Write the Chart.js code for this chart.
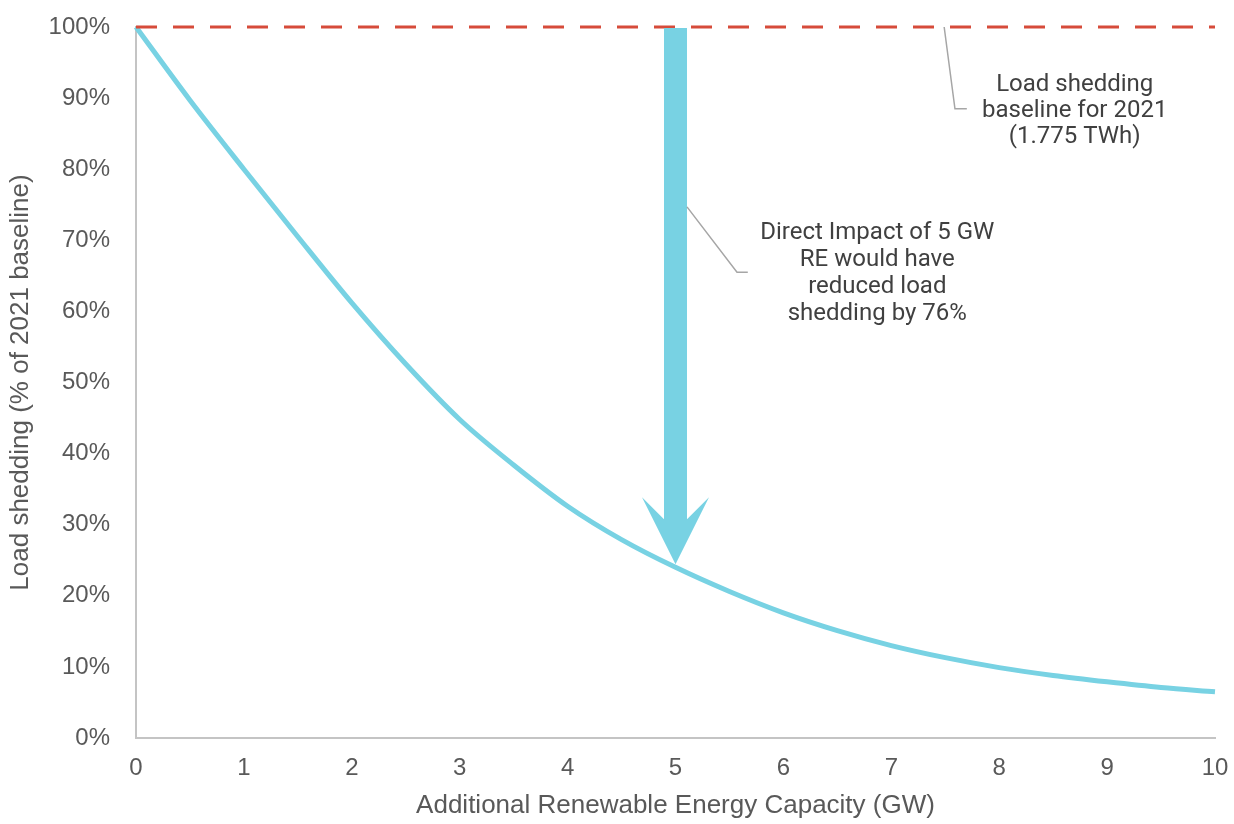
<!DOCTYPE html>
<html>
<head>
<meta charset="utf-8">
<script src="https://cdn.jsdelivr.net/npm/chart.js@4/dist/chart.umd.min.js"></script>
<style>
  html, body { margin: 0; padding: 0; background: #fff; }
  #wrap { width: 1234px; height: 824px; }
</style>
</head>
<body>
<div id="wrap"><canvas id="chart" width="1234" height="824"></canvas></div>
<script>
// load shedding curve
var capacityGW = [0, 0.5, 1, 1.5, 2, 2.5, 3, 3.5, 4, 4.5, 5, 5.5, 6, 6.5, 7, 7.5, 8, 8.5, 9, 9.5, 10];
var sheddingPct = [100, 89.7, 80, 70.5, 61.2, 52.6, 44.8, 38.4, 32.6, 27.9, 24, 20.6, 17.6, 15.1, 13, 11.3, 9.9, 8.8, 7.9, 7.1, 6.5];

// 2021 baseline (dashed)
var baselineX = [0, 10];
var baselineY = [100, 100];

var xTicks = [0, 1, 2, 3, 4, 5, 6, 7, 8, 9, 10];
var yTicks = [0, 10, 20, 30, 40, 50, 60, 70, 80, 90, 100];

var baselineNote = ['Load shedding', 'baseline for 2021', '(1.775 TWh)'];
var impactNote = ['Direct Impact of 5 GW', 'RE would have', 'reduced load', 'shedding by 76%'];
var impactFrom = 100, impactTo = 24, impactAt = 5;

var axisFont = '"Liberation Sans", Arial, sans-serif';
var noteFont = '24px "Liberation Sans Narrow", "Roboto", sans-serif';

function toPoints(xs, ys) {
    return xs.map(function (x, i) { return { x: x, y: ys[i] }; });
}

// arrow + callouts drawn through the chart scales
var notesPlugin = {
    id: 'notes',
    afterDatasetsDraw: function (chart) {
        var ctx = chart.ctx;
        var xs = chart.scales.x, ys = chart.scales.y;
        var px = function (v) { return xs.getPixelForValue(v); };
        var py = function (v) { return ys.getPixelForValue(v); };

        // big arrow
        var ax = px(impactAt);
        var top = py(impactFrom) + 1;
        var tip = py(impactTo) - 3;
        var headLen = 67, shaftW = 23, headW = 67;
        ctx.save();
        ctx.fillStyle = '#78d2e3';
        ctx.beginPath();
        ctx.moveTo(ax - shaftW / 2, top);
        ctx.lineTo(ax + shaftW / 2, top);
        ctx.lineTo(ax + shaftW / 2, tip - headLen + 22);
        ctx.lineTo(ax + headW / 2, tip - headLen);
        ctx.lineTo(ax, tip);
        ctx.lineTo(ax - headW / 2, tip - headLen);
        ctx.lineTo(ax - shaftW / 2, tip - headLen + 22);
        ctx.closePath();
        ctx.fill();

        // leader lines
        ctx.strokeStyle = '#a6a6a6';
        ctx.lineWidth = 1.5;
        ctx.beginPath();
        ctx.moveTo(px(7.49), py(100));
        ctx.lineTo(px(7.59), py(88.5));
        ctx.lineTo(px(7.70), py(88.5));
        ctx.stroke();

        ctx.beginPath();
        ctx.moveTo(ax + shaftW / 2, py(74.7));
        ctx.lineTo(px(5.57), py(65.5));
        ctx.lineTo(px(5.67), py(65.5));
        ctx.stroke();

        // callout text
        ctx.fillStyle = '#404040';
        ctx.font = noteFont;
        ctx.textAlign = 'center';
        ctx.textBaseline = 'middle';
        baselineNote.forEach(function (t, i) {
            ctx.fillText(t, px(8.70), py(91.8) + i * 26);
        });
        impactNote.forEach(function (t, i) {
            ctx.fillText(t, px(6.87), py(71.0) + i * 27);
        });
        ctx.restore();
    }
};

var ctx = document.getElementById('chart').getContext('2d');
var myChart = new Chart(ctx, {
    type: 'scatter',
    data: {
        datasets: [{
            label: 'Load shedding',
            data: toPoints(capacityGW, sheddingPct),
            showLine: true,
            borderColor: '#78d2e3',
            borderWidth: 5,
            pointRadius: 0,
            cubicInterpolationMode: 'monotone',
            clip: false,
            order: 2
        }, {
            label: 'Baseline 2021',
            data: toPoints(baselineX, baselineY),
            showLine: true,
            borderColor: '#d64b3a',
            borderWidth: 3,
            borderDash: [21, 16],
            pointRadius: 0,
            clip: false,
            order: 1
        }]
    },
    options: {
        responsive: false,
        animation: false,
        layout: { padding: { top: 27, right: 19, left: 0, bottom: 0 } },
        plugins: {
            legend: { display: false },
            tooltip: { enabled: false }
        },
        scales: {
            x: {
                type: 'linear',
                min: 0,
                max: 10,
                afterBuildTicks: function (s) { s.ticks = xTicks.map(function (v) { return { value: v }; }); },
                afterFit: function (s) { s.height = 86; s.paddingLeft = 0; s.paddingRight = 0; },
                grid: { display: false, drawTicks: false },
                border: { display: true, color: '#c4c4c4', width: 2 },
                ticks: {
                    color: '#595959',
                    font: { family: axisFont, size: 24 },
                    padding: 16
                },
                title: {
                    display: true,
                    text: 'Additional Renewable Energy Capacity (GW)',
                    color: '#595959',
                    font: { family: axisFont, size: 26 },
                    padding: { top: 4, bottom: 3 }
                }
            },
            y: {
                type: 'linear',
                min: 0,
                max: 100,
                afterBuildTicks: function (s) { s.ticks = yTicks.map(function (v) { return { value: v }; }); },
                afterFit: function (s) { s.width = 136; s.paddingTop = 0; s.paddingBottom = 0; },
                grid: { display: false, drawTicks: false },
                border: { display: true, color: '#c4c4c4', width: 2 },
                ticks: {
                    color: '#595959',
                    font: { family: axisFont, size: 24 },
                    padding: 26,
                    callback: function (v) { return v + '%'; }
                },
                title: {
                    display: true,
                    text: 'Load shedding (% of 2021 baseline)',
                    color: '#595959',
                    font: { family: axisFont, size: 26 },
                    padding: { top: 5, bottom: 4 }
                }
            }
        }
    },
    plugins: [notesPlugin]
});
</script>
</body>
</html>
